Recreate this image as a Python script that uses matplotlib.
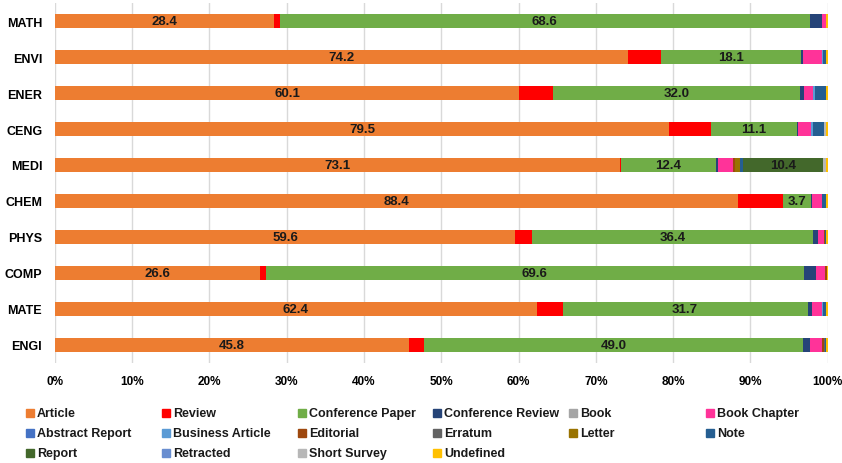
import matplotlib.pyplot as plt
from matplotlib.patches import Rectangle

# Subject areas, top to bottom
areas = ["MATH", "ENVI", "ENER", "CENG", "MEDI", "CHEM", "PHYS", "COMP", "MATE", "ENGI"]

# Share of each document type (%) per subject area
article = [28.4, 74.2, 60.1, 79.5, 73.1, 88.4, 59.6, 26.6, 62.4, 45.8]
review = [0.7, 4.2, 4.3, 5.4, 0.1, 5.8, 2.1, 0.7, 3.3, 2.0]
conf_paper = [68.6, 18.1, 32.0, 11.1, 12.4, 3.7, 36.4, 69.6, 31.7, 49.0]
conf_review = [1.6, 0.3, 0.5, 0.1, 0.2, 0.1, 0.6, 1.6, 0.6, 0.9]
book = [0.0, 0.0, 0.0, 0.0, 0.0, 0.0, 0.0, 0.0, 0.0, 0.0]
book_chapter = [0.5, 2.5, 1.2, 1.7, 1.9, 1.2, 0.8, 1.2, 1.3, 1.5]
abstract_report = [0.0, 0.0, 0.0, 0.0, 0.0, 0.0, 0.0, 0.0, 0.0, 0.0]
business_article = [0.0, 0.1, 0.3, 0.3, 0.0, 0.0, 0.0, 0.0, 0.1, 0.1]
editorial = [0.0, 0.0, 0.0, 0.0, 0.3, 0.1, 0.1, 0.2, 0.0, 0.2]
erratum = [0.0, 0.0, 0.0, 0.0, 0.0, 0.0, 0.1, 0.0, 0.0, 0.1]
letter = [0.0, 0.0, 0.0, 0.0, 0.6, 0.0, 0.0, 0.0, 0.0, 0.0]
note = [0.0, 0.4, 1.4, 1.4, 0.4, 0.5, 0.1, 0.0, 0.4, 0.2]
report = [0.0, 0.0, 0.0, 0.0, 10.4, 0.0, 0.0, 0.0, 0.0, 0.0]
retracted = [0.0, 0.0, 0.0, 0.0, 0.0, 0.0, 0.0, 0.0, 0.0, 0.0]
short_survey = [0.0, 0.0, 0.0, 0.3, 0.4, 0.0, 0.0, 0.0, 0.0, 0.0]
undefined = [0.2, 0.2, 0.2, 0.2, 0.2, 0.2, 0.2, 0.1, 0.2, 0.2]

series = [
    ("Article", article, "#ED7D31"),
    ("Review", review, "#FF0000"),
    ("Conference Paper", conf_paper, "#70AD47"),
    ("Conference Review", conf_review, "#264478"),
    ("Book", book, "#A5A5A5"),
    ("Book Chapter", book_chapter, "#FF3399"),
    ("Abstract Report", abstract_report, "#4472C4"),
    ("Business Article", business_article, "#5B9BD5"),
    ("Editorial", editorial, "#9E480E"),
    ("Erratum", erratum, "#636363"),
    ("Letter", letter, "#997300"),
    ("Note", note, "#255E91"),
    ("Report", report, "#43682B"),
    ("Retracted", retracted, "#698ED0"),
    ("Short Survey", short_survey, "#B7B7B7"),
    ("Undefined", undefined, "#FFC000"),
]
# segments that get a value label
labelled = {"Article", "Conference Paper", "Report"}

plt.rcParams['font.family'] = ['Liberation Sans', 'DejaVu Sans']
plt.rcParams['font.weight'] = 'bold'

fig = plt.figure(figsize=(8.42, 4.64), dpi=100)
ax = fig.add_axes([0.065, 0.216, 0.918, 0.775])

ypos = list(range(len(areas)))[::-1]
left = [0.0] * len(areas)
for name, vals, col in series:
    ax.barh(ypos, vals, left=left, height=0.4, color=col, zorder=3)
    if name in labelled:
        for y, l, v in zip(ypos, left, vals):
            if v >= 3:
                ax.text(l + v / 2, y, f"{v:.1f}", ha="center", va="center",
                        fontsize=9.5, fontweight="bold", color="#1A1A1A", zorder=4)
    left = [a + b for a, b in zip(left, vals)]

ax.set_xlim(0, 100)
ax.set_ylim(-0.5, len(areas) - 0.5)
ax.set_xticks(range(0, 101, 10))
ax.set_xticklabels([f"{t}%" for t in range(0, 101, 10)], fontsize=8.5, fontweight="bold")
ax.set_yticks(ypos)
ax.set_yticklabels(areas, fontsize=9, fontweight="bold")
ax.tick_params(length=0, pad=9)
ax.grid(axis="x", color="#D9D9D9", linewidth=1, zorder=0)
for s in ax.spines.values():
    s.set_visible(False)

# legend laid out row by row, six columns
col_x = [30, 166, 302, 437, 573, 710]
row_y = [414, 434, 454]
W, H = 842.0, 464.0
for i, (name, vals, col) in enumerate(series):
    r, c = divmod(i, 6)
    x, y = col_x[c], row_y[r]
    fig.patches.append(Rectangle(((x - 4) / W, 1 - (y + 4) / H), 8 / W, 8 / H,
                                 transform=fig.transFigure, color=col))
    fig.text((x + 7) / W, 1 - y / H, name, ha="left", va="center",
             fontsize=9, fontweight="bold", color="#1A1A1A")

plt.savefig("out.png", dpi=100)
